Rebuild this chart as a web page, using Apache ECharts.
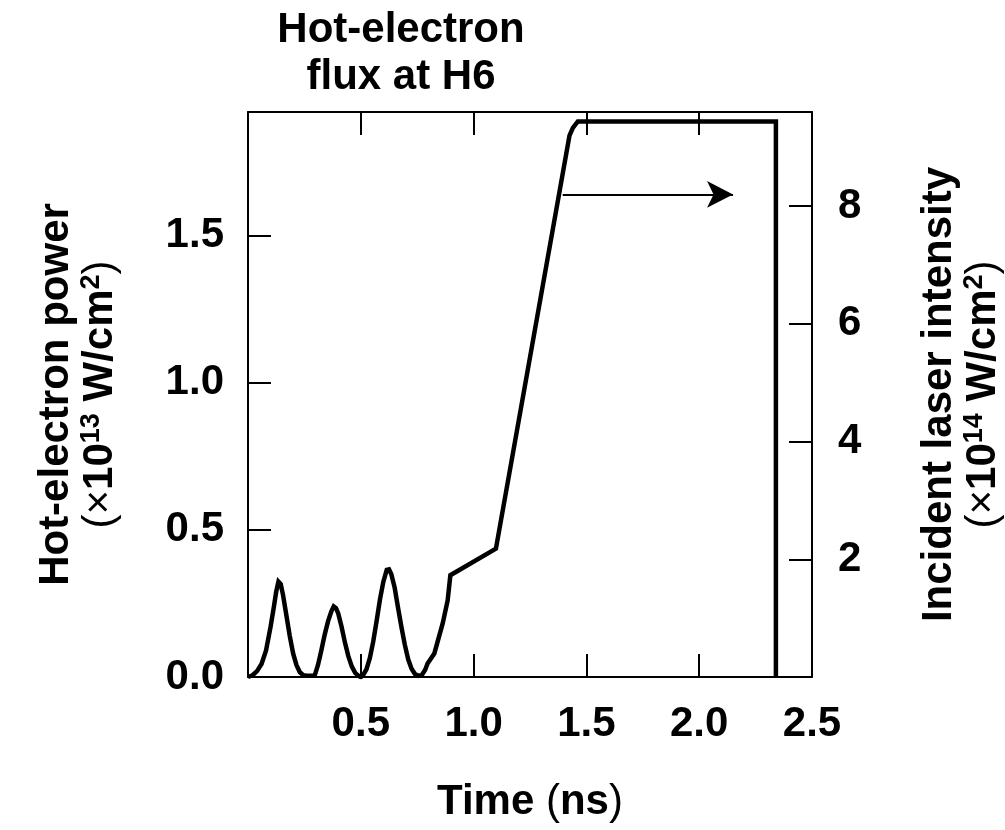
<!DOCTYPE html>
<html>
<head>
<meta charset="utf-8">
<script src="https://cdn.jsdelivr.net/npm/echarts@6/dist/echarts.min.js"></script>
<style>
html,body{margin:0;padding:0;background:#fff;}
#chart{width:1005px;height:830px;}
</style>
</head>
<body>
<div id="chart"></div>
<script>
// ---- data ----
const timeNs = [
  0, 0.02, 0.04, 0.06, 0.08, 0.10, 0.115, 0.125, 0.135, 0.145, 0.155, 0.17, 0.185, 0.20, 0.215, 0.23, 0.245, 0.26, 0.295,
  0.31, 0.325, 0.34, 0.355, 0.37, 0.38, 0.39, 0.40, 0.415, 0.43, 0.445, 0.46, 0.475, 0.49, 0.50,
  0.51, 0.525, 0.54, 0.555, 0.57, 0.585, 0.60, 0.615, 0.625, 0.635, 0.65, 0.665, 0.68, 0.695, 0.71, 0.725, 0.74, 0.755, 0.77,
  0.785, 0.796, 0.826, 0.863, 0.885, 0.897, 1.099, 1.425, 1.440, 1.462, 2.340, 2.340];
const laserIntensity = [
  0, 0.03, 0.10, 0.22, 0.45, 0.85, 1.20, 1.45, 1.62, 1.58, 1.40, 1.05, 0.70, 0.40, 0.20, 0.08, 0.03, 0.02, 0.02,
  0.20, 0.45, 0.72, 0.95, 1.12, 1.20, 1.17, 1.08, 0.85, 0.58, 0.35, 0.18, 0.07, 0.02, 0.00,
  0.03, 0.13, 0.32, 0.60, 0.95, 1.32, 1.62, 1.82, 1.83, 1.75, 1.52, 1.18, 0.85, 0.55, 0.30, 0.14, 0.05, 0.02, 0.03,
  0.12, 0.23, 0.40, 0.91, 1.30, 1.73, 2.18, 9.20, 9.33, 9.44, 9.44, 0];
const arrowFrom = [1.395, 8.2];
const arrowTo = [2.15, 8.2];
const xTickLabels = {0.5: '0.5', 1: '1.0', 1.5: '1.5', 2: '2.0', 2.5: '2.5'};
const leftTickLabels = {0: '0.0', 0.5: '0.5', 1: '1.0', 1.5: '1.5'};
const rightTickLabels = {2: '2', 4: '4', 6: '6', 8: '8'};
const xRange = [0, 2.5];
const leftRange = [0, 1.92];
const rightRange = [0, 9.6];

// ---- chart ----
const FONT = '"Liberation Sans", Arial, Helvetica, sans-serif';
const FS = 42;
const richStyles = {
  b: {fontSize: FS, fontWeight: 'bold', fontFamily: FONT, color: '#000', lineHeight: 44},
  n: {fontSize: FS, fontWeight: 'normal', fontFamily: FONT, color: '#000', lineHeight: 44},
  sup: {fontSize: 27, fontWeight: 'bold', fontFamily: FONT, color: '#000', verticalAlign: 'top', lineHeight: 30}
};
const pairs = timeNs.map((t, i) => [t, laserIntensity[i]]);
const lineCol = '#000';
const tickStyle = {show: true, inside: true, length: 23, lineStyle: {color: lineCol, width: 2}};
const axisLine = {show: true, onZero: false, lineStyle: {color: lineCol, width: 2}};
const labelBase = {fontSize: FS, fontWeight: 'bold', fontFamily: FONT, color: '#000'};

const chart = echarts.init(document.getElementById('chart'), null, {renderer: 'canvas'});
chart.setOption({
  animation: false,
  backgroundColor: '#fff',
  title: {
    text: 'Hot-electron\nflux at H6',
    left: 396, top: 2, textAlign: 'center',
    textStyle: {fontSize: FS, fontWeight: 'bold', fontFamily: FONT, color: '#000', lineHeight: 47}
  },
  grid: {left: 248, right: 193, top: 112, bottom: 153, containLabel: false, outerBoundsMode: 'none'},
  xAxis: [{
    type: 'value', position: 'bottom', min: xRange[0], max: xRange[1], interval: 0.5,
    axisLine: axisLine, axisTick: tickStyle, splitLine: {show: false},
    axisLabel: Object.assign({margin: 26, showMinLabel: false, formatter: v => xTickLabels[v] || ''}, labelBase),
    name: '{b|Time }{n|(}{b|ns}{n|)}', nameLocation: 'middle', nameGap: 103, nameMoveOverlap: false,
    nameTextStyle: {rich: richStyles}
  }, {
    type: 'value', position: 'top', min: xRange[0], max: xRange[1], interval: 0.5,
    axisLine: axisLine, axisTick: tickStyle, splitLine: {show: false}, axisLabel: {show: false}
  }],
  yAxis: [{
    type: 'value', position: 'left', min: leftRange[0], max: leftRange[1], interval: 0.5,
    axisLine: axisLine, axisTick: tickStyle, splitLine: {show: false},
    axisLabel: Object.assign({margin: 24, showMaxLabel: false, formatter: v => leftTickLabels[v] || ''}, labelBase),
    name: '{b|Hot-electron power}\n{n|(×}{b|10}{sup|13}{b| W/cm}{sup|2}{n|)}',
    nameLocation: 'middle', nameRotate: 90, nameGap: 126, nameMoveOverlap: false,
    nameTextStyle: {rich: richStyles}
  }, {
    type: 'value', position: 'right', min: rightRange[0], max: rightRange[1], interval: 2,
    axisLine: axisLine, axisTick: tickStyle, splitLine: {show: false},
    axisLabel: Object.assign({margin: 26, showMinLabel: false, showMaxLabel: false, formatter: v => rightTickLabels[v] || ''}, labelBase),
    name: '{b|Incident laser intensity}\n{n|(×}{b|10}{sup|14}{b| W/cm}{sup|2}{n|)}',
    nameLocation: 'middle', nameRotate: 90, nameGap: 105, nameMoveOverlap: false,
    nameTextStyle: {rich: richStyles}
  }],
  series: [{
    type: 'line', xAxisIndex: 0, yAxisIndex: 1, data: pairs,
    showSymbol: false, symbol: 'none', smooth: false,
    lineStyle: {color: '#000', width: 4.5, join: 'miter'},
    silent: true,
    markLine: {
      silent: true, animation: false,
      symbol: ['none', 'arrow'], symbolSize: [20, 26],
      label: {show: false},
      lineStyle: {color: '#000', width: 2, type: 'solid'},
      emphasis: {disabled: true},
      data: [[{coord: arrowFrom}, {coord: arrowTo}]]
    }
  }]
});
</script>
</body>
</html>
